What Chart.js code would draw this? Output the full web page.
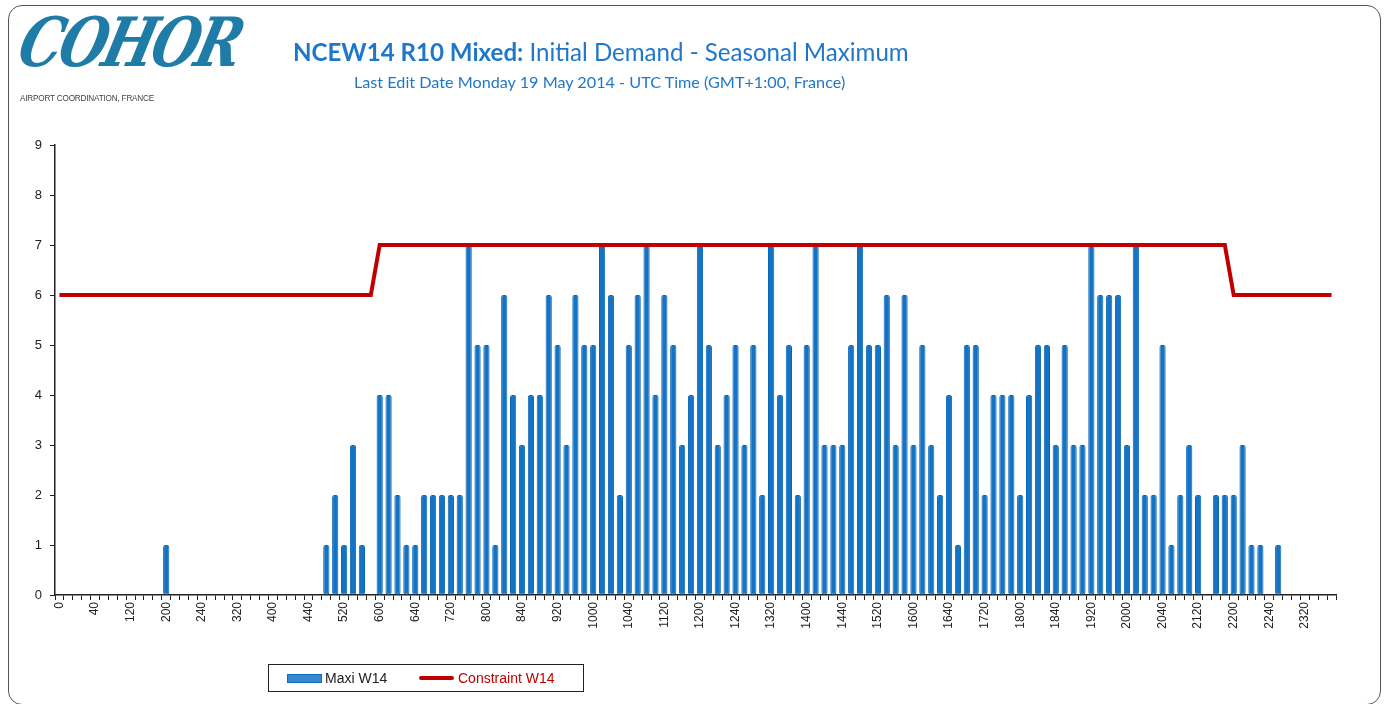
<!DOCTYPE html>
<html>
<head>
<meta charset="utf-8">
<script src="https://cdn.jsdelivr.net/npm/chart.js@4.4.1/dist/chart.umd.min.js"></script>
<style>
  html, body { margin: 0; padding: 0; background: #fff; }
  #wrap { position: relative; width: 1389px; height: 704px; overflow: hidden; }
  #frame { position: absolute; left: 8px; top: 5px; width: 1373px; height: 700px;
           border: 1.5px solid #555; border-radius: 14px; box-sizing: border-box; }
  #chart { position: absolute; left: 0; top: 0; }
  .logo { position: absolute; left: 31px; top: 2px; font-family: "DejaVu Serif", serif;
          font-style: italic; font-weight: bold; font-size: 68px; color: #1f7ca6;
          letter-spacing: -4px; transform: skewX(-14deg) scaleX(0.8); transform-origin: left top; }
  .logosub { position: absolute; left: 20px; top: 94px; font-family: "Liberation Sans", Arial, sans-serif;
             font-size: 8.2px; color: #444; letter-spacing: -0.2px; }
  .title { position: absolute; left: 293px; top: 37px; font-family: Lato, "Noto Sans", sans-serif;
           font-size: 24.1px; color: #1f77c9; white-space: nowrap; }
  .title b { font-weight: bold; }
  .sub { position: absolute; left: 354px; top: 72px; font-family: Lato, "Noto Sans", sans-serif;
         font-size: 16.2px; color: #1f77c9; white-space: nowrap; }
  #legend { position: absolute; left: 268px; top: 664px; width: 316px; height: 28px;
            border: 1.5px solid #222; box-sizing: border-box; background: #fff;
            font-family: "Liberation Sans", Arial, sans-serif; font-size: 14px; }
  #legend span { position: absolute; top: 5px; }
  .sw1 { position: absolute; left: 18px; top: 9px; width: 35px; height: 9px; background: #3a86d0;
         border: 1.5px solid #0b6ec0; box-sizing: border-box; }
  .sw2 { position: absolute; left: 150px; top: 11px; width: 35px; height: 4px; background: #c00000; border-radius: 2px; }
</style>
</head>
<body>
<div id="wrap">
  <canvas id="chart" width="1389" height="704"></canvas>
  <div id="frame"></div>
  <div class="logo">COHOR</div>
  <div class="logosub">AIRPORT COORDINATION, FRANCE</div>
  <div class="title"><b>NCEW14 R10 Mixed:</b> Initial Demand - Seasonal Maximum</div>
  <div class="sub">Last Edit Date Monday 19 May 2014 - UTC Time (GMT+1:00, France)</div>
  <div id="legend">
    <div class="sw1"></div><span style="left:56px;color:#222">Maxi W14</span>
    <div class="sw2"></div><span style="left:189px;color:#c00000">Constraint W14</span>
  </div>
</div>
<script>
// time slots (HHMM, UTC), 10 minute steps
const slots = [
  '0','10','20','30','40','50','100','110','120','130','140','150',
  '200','210','220','230','240','250','300','310','320','330','340','350',
  '400','410','420','430','440','450','500','510','520','530','540','550',
  '600','610','620','630','640','650','700','710','720','730','740','750',
  '800','810','820','830','840','850','900','910','920','930','940','950',
  '1000','1010','1020','1030','1040','1050','1100','1110','1120','1130','1140','1150',
  '1200','1210','1220','1230','1240','1250','1300','1310','1320','1330','1340','1350',
  '1400','1410','1420','1430','1440','1450','1500','1510','1520','1530','1540','1550',
  '1600','1610','1620','1630','1640','1650','1700','1710','1720','1730','1740','1750',
  '1800','1810','1820','1830','1840','1850','1900','1910','1920','1930','1940','1950',
  '2000','2010','2020','2030','2040','2050','2100','2110','2120','2130','2140','2150',
  '2200','2210','2220','2230','2240','2250','2300','2310','2320','2330','2340','2350'
];

const maxiW14 = [
  0,0,0,0,0,0,0,0,0,0,0,0,
  1,0,0,0,0,0,0,0,0,0,0,0,
  0,0,0,0,0,0,1,2,1,3,1,0,
  4,4,2,1,1,2,2,2,2,2,7,5,
  5,1,6,4,3,4,4,6,5,3,6,5,
  5,7,6,2,5,6,7,4,6,5,3,4,
  7,5,3,4,5,3,5,2,7,4,5,2,
  5,7,3,3,3,5,7,5,5,6,3,6,
  3,5,3,2,4,1,5,5,2,4,4,4,
  2,4,5,5,3,5,3,3,7,6,6,6,
  3,7,2,2,5,1,2,3,2,0,2,2,
  2,3,1,1,0,1,0,0,0,0,0,0
];

const constraintW14 = [
  6,6,6,6,6,6,6,6,6,6,6,6,
  6,6,6,6,6,6,6,6,6,6,6,6,
  6,6,6,6,6,6,6,6,6,6,6,6,
  7,7,7,7,7,7,7,7,7,7,7,7,
  7,7,7,7,7,7,7,7,7,7,7,7,
  7,7,7,7,7,7,7,7,7,7,7,7,
  7,7,7,7,7,7,7,7,7,7,7,7,
  7,7,7,7,7,7,7,7,7,7,7,7,
  7,7,7,7,7,7,7,7,7,7,7,7,
  7,7,7,7,7,7,7,7,7,7,7,7,
  7,7,7,7,7,7,7,7,7,7,7,7,
  6,6,6,6,6,6,6,6,6,6,6,6
];

const yTicks = [0, 1, 2, 3, 4, 5, 6, 7, 8, 9];

const ctx = document.getElementById('chart').getContext('2d');
new Chart(ctx, {
  data: {
    labels: slots,
    datasets: [
      {
        type: 'line',
        label: 'Constraint W14',
        data: constraintW14,
        borderColor: '#c00000',
        borderWidth: 4,
        pointRadius: 0,
        tension: 0,
        order: 0
      },
      {
        type: 'bar',
        label: 'Maxi W14',
        data: maxiW14,
        backgroundColor: '#1573c4',
        borderColor: '#0866b8',
        borderWidth: 1,
        borderSkipped: false,
        borderRadius: 2,
        barPercentage: 0.7,
        categoryPercentage: 1,
        order: 1
      }
    ]
  },
  options: {
    responsive: false,
    animation: false,
    layout: { padding: { left: 10, top: 145, right: 53, bottom: 69 } },
    plugins: { legend: { display: false }, tooltip: { enabled: false } },
    scales: {
      x: {
        offset: true,
        grid: { display: true, drawOnChartArea: false, drawTicks: true, tickLength: 5, color: '#222', offset: true },
        border: { color: '#222', width: 1.5 },
        ticks: {
          autoSkip: false,
          maxRotation: 90,
          minRotation: 90,
          padding: 2,
          color: '#222',
          font: { family: 'Liberation Sans, Arial, sans-serif', size: 12 },
          callback: (v, i) => (i % 4 === 0 ? slots[i] : '')
        },
        afterFit: s => { s.height = 40; }
      },
      y: {
        min: 0,
        max: 9,
        afterBuildTicks: s => { s.ticks = yTicks.map(v => ({ value: v })); },
        grid: { display: true, drawOnChartArea: false, drawTicks: true, tickLength: 5, color: '#222' },
        border: { color: '#222', width: 1.5 },
        ticks: {
          color: '#222',
          padding: 8,
          font: { family: 'Liberation Sans, Arial, sans-serif', size: 13 }
        },
        afterFit: s => { s.width = 45; }
      }
    }
  }
});
</script>
</body>
</html>
